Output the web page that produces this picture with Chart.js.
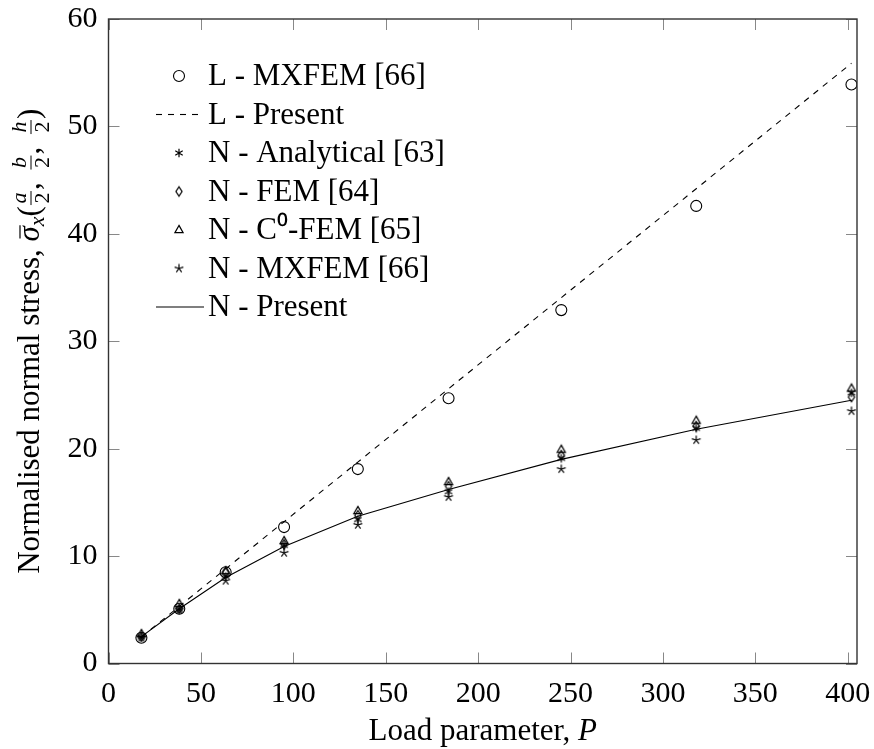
<!DOCTYPE html>
<html>
<head>
<meta charset="utf-8">
<script src="https://cdn.jsdelivr.net/npm/chart.js@4"></script>
<style>
	body { margin: 0; background: #fff; }
	#box { width: 874px; height: 749px; position: relative; }
</style>
</head>
<body>
<div id="box"><canvas id="stressChart"></canvas></div>
<script>
// load parameter P
const loadP = [17.8, 38.3, 63.4, 95.0, 134.9, 184.0, 245.0, 318.0, 402.0];

// linear results
const lMxfem = [2.4, 5.1, 8.5, 12.7, 18.1, 24.7, 32.9, 42.6, 53.9];
const lPresent = [2.47, 5.32, 8.81, 13.2, 18.75, 25.58, 34.06, 44.2, 55.88];

// nonlinear results
const nAnalytical = [2.45, 5.05, 8.1, 11.0, 13.4, 16.0, 19.1, 21.9, 25.2];
const nFem = [2.5, 5.1, 8.5, 11.1, 13.8, 16.5, 19.4, 22.1, 24.8];
const nC0Fem = [2.75, 5.55, 8.6, 11.4, 14.2, 16.9, 19.9, 22.6, 25.6];
const nMxfem = [2.4, 5.0, 7.7, 10.3, 12.9, 15.5, 18.1, 20.8, 23.5];
const nPresent = [2.5, 5.1, 8.0, 10.9, 13.7, 16.2, 19.0, 21.8, 24.5];

const xTicks = [0, 50, 100, 150, 200, 250, 300, 350, 400];
const yTicks = [0, 10, 20, 30, 40, 50, 60];

const FONT = "'Liberation Serif', serif";
const TXT = 31;

// small marker pictures, pgfplots-like
function makeMarker(kind) {
	const c = document.createElement("canvas");
	c.width = 16;
	c.height = 16;
	const g = c.getContext("2d");
	g.strokeStyle = "#000";
	g.lineWidth = 1.2;
	g.translate(8, 8);
	g.beginPath();
	if (kind === "asterisk") {
		for (let k = 0; k < 3; k++) {
			const a = Math.PI / 2 + k * Math.PI / 3;
			g.moveTo(4.3 * Math.cos(a), -4.3 * Math.sin(a));
			g.lineTo(-4.3 * Math.cos(a), 4.3 * Math.sin(a));
		}
	} else if (kind === "star") {
		for (let k = 0; k < 5; k++) {
			const a = Math.PI / 2 + k * 2 * Math.PI / 5;
			g.moveTo(0, 0);
			g.lineTo(4.6 * Math.cos(a), -4.6 * Math.sin(a));
		}
	} else if (kind === "diamond") {
		g.moveTo(0, -4.6);
		g.lineTo(3.1, 0);
		g.lineTo(0, 4.6);
		g.lineTo(-3.1, 0);
		g.closePath();
	} else if (kind === "triangle") {
		g.moveTo(0, -4.6);
		g.lineTo(4.1, 2.7);
		g.lineTo(-4.1, 2.7);
		g.closePath();
	}
	g.stroke();
	return c;
}

const toXY = arr => loadP.map((p, i) => ({ x: p, y: arr[i] }));

function markerSet(label, arr, style) {
	return {
		label: label,
		data: toXY(arr),
		showLine: false,
		pointStyle: style,
		pointRadius: 5.5,
		borderColor: "#000",
		backgroundColor: "rgba(0,0,0,0)",
		borderWidth: 1.1
	};
}

function lineSet(label, arr, dash) {
	return {
		label: label,
		data: toXY(arr),
		showLine: true,
		borderColor: "#000",
		borderWidth: 1.1,
		borderDash: dash,
		pointRadius: 0,
		tension: 0,
		fill: false
	};
}

const datasets = [
	markerSet("L - MXFEM [66]", lMxfem, "circle"),
	lineSet("L - Present", lPresent, [6, 6]),
	markerSet("N - Analytical [63]", nAnalytical, makeMarker("asterisk")),
	markerSet("N - FEM [64]", nFem, makeMarker("diamond")),
	markerSet("N - C\u2070-FEM [65]", nC0Fem, makeMarker("triangle")),
	markerSet("N - MXFEM [66]", nMxfem, makeMarker("star")),
	lineSet("N - Present", nPresent, [])
];

// frame with inward ticks on all four sides
const frameTicks = {
	id: "frameTicks",
	afterDatasetsDraw(chart) {
		const { ctx, chartArea: a, scales } = chart;
		ctx.save();
		ctx.strokeStyle = "#888";
		ctx.lineWidth = 1;
		ctx.beginPath();
		xTicks.forEach(v => {
			const px = Math.round(scales.x.getPixelForValue(v)) + 0.5;
			ctx.moveTo(px, a.bottom);
			ctx.lineTo(px, a.bottom - 11);
			ctx.moveTo(px, a.top);
			ctx.lineTo(px, a.top + 11);
		});
		yTicks.forEach(v => {
			const py = Math.round(scales.y.getPixelForValue(v)) + 0.5;
			ctx.moveTo(a.left, py);
			ctx.lineTo(a.left + 11, py);
			ctx.moveTo(a.right, py);
			ctx.lineTo(a.right - 11, py);
		});
		ctx.stroke();
		ctx.strokeStyle = "#333";
		ctx.lineWidth = 1.4;
		ctx.strokeRect(a.left, a.top, a.right - a.left, a.bottom - a.top);
		ctx.restore();
	}
};

// legend inside the plot, top left
const innerLegend = {
	id: "innerLegend",
	afterDraw(chart) {
		const ctx = chart.ctx;
		ctx.save();
		ctx.font = TXT + "px " + FONT;
		ctx.fillStyle = "#000";
		ctx.textBaseline = "middle";
		chart.data.datasets.forEach((ds, i) => {
			const y = 76 + i * 38.5;
			ctx.strokeStyle = "#000";
			ctx.lineWidth = 1.1;
			if (ds.showLine) {
				ctx.setLineDash(ds.borderDash);
				ctx.beginPath();
				ctx.moveTo(156, y);
				ctx.lineTo(204, y);
				ctx.stroke();
				ctx.setLineDash([]);
			} else if (ds.pointStyle === "circle") {
				ctx.beginPath();
				ctx.arc(179, y, 5.5, 0, Math.PI * 2);
				ctx.stroke();
			} else {
				ctx.drawImage(ds.pointStyle, 179 - 8, y - 8);
			}
			ctx.fillText(ds.label, 208, y + 1);
		});
		ctx.restore();
	}
};

// axis titles with the little fractions
const axisTitles = {
	id: "axisTitles",
	afterDraw(chart) {
		const ctx = chart.ctx;
		const a = chart.chartArea;
		ctx.save();
		ctx.fillStyle = "#000";
		ctx.strokeStyle = "#000";
		ctx.textBaseline = "alphabetic";

		// x title
		const big = TXT + "px " + FONT;
		const bigIt = "italic " + TXT + "px " + FONT;
		ctx.font = big;
		const xa = "Load parameter, ";
		const wA = ctx.measureText(xa).width;
		ctx.font = bigIt;
		const wP = ctx.measureText("P").width;
		const x0 = (a.left + a.right) / 2 - (wA + wP) / 2;
		ctx.font = big;
		ctx.fillText(xa, x0, 740);
		ctx.font = bigIt;
		ctx.fillText("P", x0 + wA, 740);

		// y title, built left to right then rotated
		const small = "italic 22px " + FONT;
		const smallUp = "22px " + FONT;
		const parts = [
			{ t: "Normalised normal stress, ", f: big },
			{ t: "\u03C3", f: bigIt, bar: true },
			{ t: "x", f: "italic 22px " + FONT, dy: 5 },
			{ t: "(", f: big },
			{ frac: "a" }, { t: ", ", f: big, extra: 4 },
			{ frac: "b" }, { t: ", ", f: big, extra: 4 },
			{ frac: "h" }, { t: ")", f: big }
		];
		let total = 0;
		parts.forEach(p => {
			if (p.frac) {
				ctx.font = small;
				p.w = Math.max(ctx.measureText(p.frac).width, 12) + 4;
			} else {
				ctx.font = p.f;
				p.w = ctx.measureText(p.t).width + (p.extra || 0);
			}
			total += p.w;
		});
		ctx.translate(39, (a.top + a.bottom) / 2);
		ctx.rotate(-Math.PI / 2);
		let cx = -total / 2;
		parts.forEach(p => {
			if (p.frac) {
				ctx.font = small;
				ctx.textAlign = "center";
				ctx.fillText(p.frac, cx + p.w / 2, -13);
				ctx.font = smallUp;
				ctx.fillText("2", cx + p.w / 2, 10);
				ctx.lineWidth = 1;
				ctx.beginPath();
				ctx.moveTo(cx + 1, -8);
				ctx.lineTo(cx + p.w - 1, -8);
				ctx.stroke();
				ctx.textAlign = "left";
			} else {
				ctx.font = p.f;
				ctx.fillText(p.t, cx, p.dy || 0);
				if (p.bar) {
					ctx.lineWidth = 1.2;
					ctx.beginPath();
					ctx.moveTo(cx + 3, -19);
					ctx.lineTo(cx + p.w + 1, -19);
					ctx.stroke();
				}
			}
			cx += p.w;
		});
		ctx.restore();
	}
};

new Chart(document.getElementById("stressChart").getContext("2d"), {
	type: "scatter",
	data: { datasets: datasets },
	options: {
		responsive: true,
		maintainAspectRatio: false,
		animation: false,
		layout: {
			autoPadding: false,
			padding: { top: 19, right: 17, left: 0, bottom: 0 }
		},
		scales: {
			x: {
				type: "linear",
				min: 0,
				max: 405,
				afterFit: s => {
					s.height = 85.5;
					s.paddingLeft = 0;
					s.paddingRight = 0;
				},
				grid: { display: false, drawTicks: false },
				border: { display: false },
				ticks: {
					stepSize: 50,
					includeBounds: false,
					padding: 13,
					color: "#000",
					font: { family: FONT, size: 30 }
				}
			},
			y: {
				min: 0,
				max: 60,
				afterFit: s => {
					s.width = 108.5;
					s.paddingTop = 0;
					s.paddingBottom = 0;
				},
				grid: { display: false, drawTicks: false },
				border: { display: false },
				ticks: {
					stepSize: 10,
					padding: 11,
					color: "#000",
					font: { family: FONT, size: 30 }
				}
			}
		},
		plugins: {
			legend: { display: false },
			tooltip: { enabled: false }
		}
	},
	plugins: [frameTicks, innerLegend, axisTitles]
});
</script>
</body>
</html>
